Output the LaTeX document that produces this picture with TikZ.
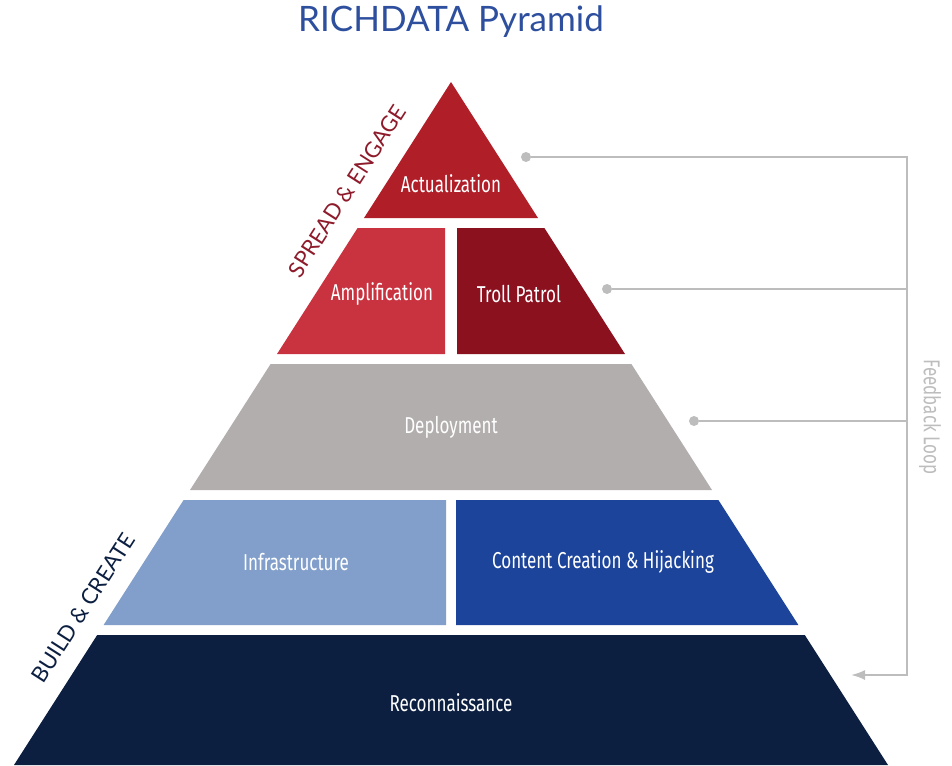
\documentclass[tikz,border=0pt]{standalone}
\usepackage{fontspec}
\setmainfont{Lato}
\newfontfamily\condfont[FakeStretch=0.74]{Fira Sans}
\usetikzlibrary{arrows.meta}
\definecolor{actual}{HTML}{B01E28}
\definecolor{amplif}{HTML}{C9323F}
\definecolor{troll}{HTML}{8B111F}
\definecolor{deploy}{HTML}{B3AEAE}
\definecolor{infra}{HTML}{819FCA}
\definecolor{content}{HTML}{1C449B}
\definecolor{recon}{HTML}{0C1F41}
\definecolor{loopgray}{HTML}{BDBDBD}
\definecolor{titleblue}{HTML}{2D4F9E}
\definecolor{spreadred}{HTML}{8E1B2B}
\tikzset{circ/.style = {fill=loopgray, circle, inner sep = 0, minimum size = 10}}
\tikzset{tiertext/.style = {text=white, font=\condfont\fontsize{23}{27}\selectfont}}
\tikzset{fbline/.style = {draw=loopgray, line width = 2}}
\tikzset{side/.style = {rotate=57.4, font=\fontsize{22}{26}\selectfont}}

\begin{document}
\begin{tikzpicture}[x=1pt, y=-1pt]
      \useasboundingbox (0, 0) rectangle (952, 765);
      \node [text=titleblue, font=\fontsize{35}{40}\selectfont] (title) at (451, 22) {RICHDATA Pyramid};

      \fill [actual] (451, 82) -- (364, 218) -- (538, 218) -- cycle;
      \fill [amplif] (357.6, 228) -- (445, 228) -- (445, 354) -- (277, 354) -- cycle;
      \fill [troll] (457, 228) -- (544.4, 228) -- (625, 354) -- (457, 354) -- cycle;
      \fill [deploy] (270.6, 364) -- (631.4, 364) -- (712, 490) -- (190, 490) -- cycle;
      \fill [infra] (183.6, 500) -- (446, 500) -- (446, 625) -- (103.6, 625) -- cycle;
      \fill [content] (456, 500) -- (718.4, 500) -- (798.4, 625) -- (456, 625) -- cycle;
      \fill [recon] (97.2, 635) -- (804.8, 635) -- (888, 765) -- (14, 765) -- cycle;

      \node [tiertext] (actualization) at (451, 184) {Actualization};
      \node [tiertext] (amplification) at (382, 294) {Amplification};
      \node [tiertext] (trollpatrol) at (519, 294) {Troll Patrol};
      \node [tiertext] (deployment) at (451, 427) {Deployment};
      \node [tiertext] (infrastructure) at (296, 562) {Infrastructure};
      \node [tiertext] (contentcreation) at (603, 562) {Content Creation \& Hijacking};
      \node [tiertext] (reconnaissance) at (451, 703) {Reconnaissance};

      \node [side, text=spreadred] (spread) at (347, 191) {SPREAD \& ENGAGE};
      \node [side, text=recon] (build) at (83, 608) {BUILD \& CREATE};

      % feedback loop
      \node [circ] (fbA) at (526, 157) {};
      \node [circ] (fbB) at (607, 289) {};
      \node [circ] (fbC) at (694, 421) {};
      \coordinate (cA) at (907, 157);
      \coordinate (cB) at (907, 289);
      \coordinate (cC) at (907, 421);
      \coordinate (cD) at (907, 675);
      \coordinate (tip) at (851, 675);
      \draw [fbline, -{Latex[length=14, width=10]}] (fbA) -- (cA) -- (cD) -- (tip);
      \draw [fbline] (fbB) -- (cB);
      \draw [fbline] (fbC) -- (cC);
      \node [text=loopgray, rotate=-90, font=\condfont\fontsize{23}{27}\selectfont] (fbtext) at (930, 417) {Feedback Loop};

    \end{tikzpicture}
\end{document}
